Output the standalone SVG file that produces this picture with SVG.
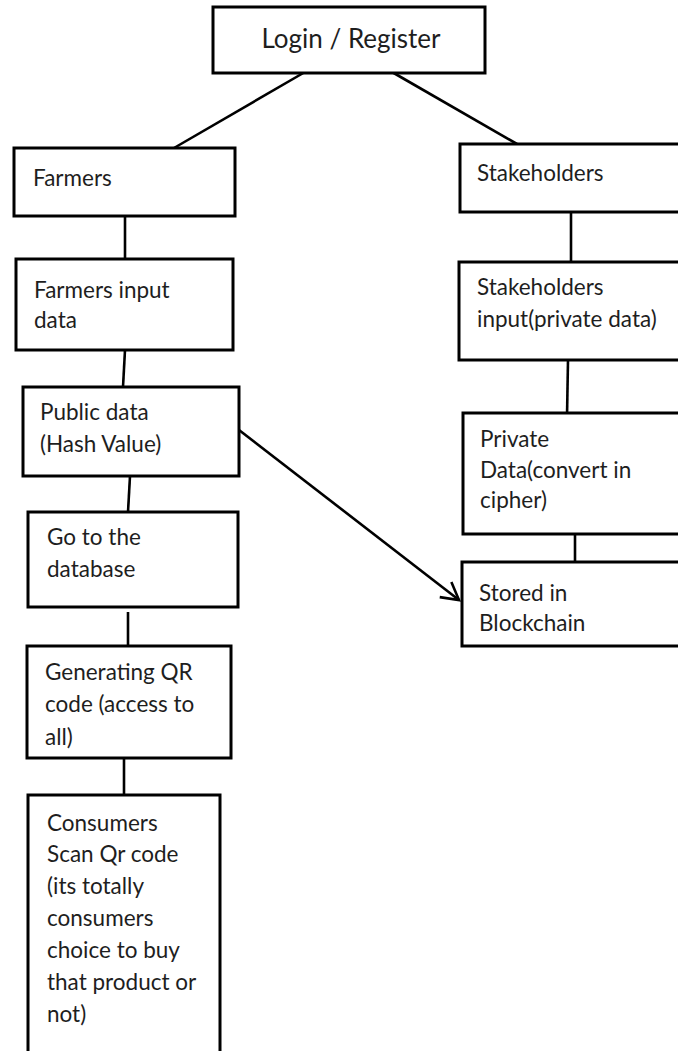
<svg xmlns="http://www.w3.org/2000/svg" width="678" height="1051" viewBox="0 0 678 1051">
<style>
.box{fill:#fff;stroke:#000;stroke-width:3}
.t{font-family:Lato,"Liberation Sans",sans-serif;font-size:22.5px;fill:#1e1e1e}
.big{font-size:26px}
.c{fill:none;stroke:#000;stroke-width:2.6}
</style>
<defs>
<marker id="arr" markerUnits="userSpaceOnUse" markerWidth="26" markerHeight="26" refX="19" refY="11" orient="auto" viewBox="0 0 26 26">
<path d="M2,1.5 L19,11 L2,20.5" fill="none" stroke="#000" stroke-width="2.6"/>
</marker>
</defs>
<rect width="678" height="1051" fill="#fff"/>
<g id="connectors">
<line class="c" x1="305" y1="72" x2="174" y2="148"/>
<line class="c" x1="392" y1="72" x2="517" y2="144"/>
<line class="c" x1="125" y1="216" x2="125" y2="260"/>
<line class="c" x1="125" y1="350" x2="123" y2="387"/>
<line class="c" x1="130" y1="476" x2="128" y2="512"/>
<line class="c" x1="128" y1="612" x2="128" y2="646"/>
<line class="c" x1="124" y1="758" x2="124" y2="795"/>
<line class="c" x1="571" y1="212" x2="571" y2="262"/>
<line class="c" x1="568" y1="360" x2="567" y2="417"/>
<line class="c" x1="575" y1="534" x2="575" y2="562"/>
<line class="c" x1="239" y1="430" x2="459" y2="600" marker-end="url(#arr)"/>
</g>
<g id="login">
<rect class="box" x="213" y="7" width="272" height="66"/>
<text class="t big" x="351" y="48" text-anchor="middle">Login / Register</text>
</g>
<g id="farmers">
<rect class="box" x="14" y="148" width="221" height="68"/>
<text class="t" x="33" y="186">Farmers</text>
</g>
<g id="farmers-input">
<rect class="box" x="16" y="259" width="217" height="91"/>
<text class="t" x="34" y="298">Farmers input</text>
<text class="t" x="34" y="328">data</text>
</g>
<g id="public-data">
<rect class="box" x="23" y="387" width="216" height="89"/>
<text class="t" x="40" y="420">Public data</text>
<text class="t" x="40" y="452">(Hash Value)</text>
</g>
<g id="database">
<rect class="box" x="28" y="512" width="210" height="95"/>
<text class="t" x="47" y="545">Go to the</text>
<text class="t" x="47" y="577">database</text>
</g>
<g id="qr">
<rect class="box" x="27" y="646" width="204" height="112"/>
<text class="t" x="45" y="680">Generating QR</text>
<text class="t" x="45" y="712">code (access to</text>
<text class="t" x="45" y="745">all)</text>
</g>
<g id="consumers">
<rect class="box" x="28" y="795" width="192" height="270"/>
<text class="t" x="47" y="831">Consumers</text>
<text class="t" x="47" y="862">Scan Qr code</text>
<text class="t" x="47" y="894">(its totally</text>
<text class="t" x="47" y="926">consumers</text>
<text class="t" x="47" y="958">choice to buy</text>
<text class="t" x="47" y="990">that product or</text>
<text class="t" x="47" y="1022">not)</text>
</g>
<g id="stakeholders">
<rect class="box" x="460" y="144" width="230" height="68"/>
<text class="t" x="477" y="181">Stakeholders</text>
</g>
<g id="stakeholders-input">
<rect class="box" x="459" y="262" width="231" height="98"/>
<text class="t" x="477" y="295">Stakeholders</text>
<text class="t" x="477" y="327">input(private data)</text>
</g>
<g id="private-data">
<rect class="box" x="463" y="413" width="227" height="121"/>
<text class="t" x="480" y="447">Private</text>
<text class="t" x="480" y="478">Data(convert in</text>
<text class="t" x="480" y="508">cipher)</text>
</g>
<g id="blockchain">
<rect class="box" x="462" y="562" width="228" height="84"/>
<text class="t" x="479" y="601">Stored in</text>
<text class="t" x="479" y="631">Blockchain</text>
</g>
</svg>
